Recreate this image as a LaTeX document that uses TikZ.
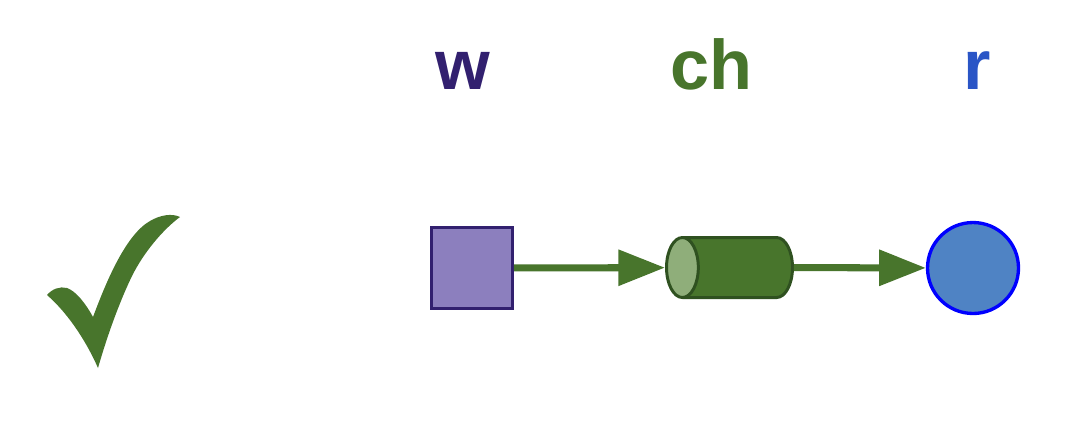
\documentclass[tikz,border=0pt]{standalone}
\usepackage{fontspec}
\setsansfont{Liberation Sans}
\usetikzlibrary{shapes.geometric, arrows.meta}
\definecolor{wpurple}{HTML}{8C7FBE}
\definecolor{wdark}{HTML}{32206F}
\definecolor{chgreen}{HTML}{48752C}
\definecolor{chlight}{HTML}{8FAE7A}
\definecolor{chdark}{HTML}{2F5120}
\definecolor{rblue}{HTML}{4F83C4}
\definecolor{rtext}{HTML}{2A55C6}
\begin{document}
\begin{tikzpicture}[x=0.02cm, y=-0.02cm,
      writer/.style = {
        rectangle, draw=wdark, fill=wpurple, line width=1.7pt,
        minimum size=1.62cm, inner sep=0pt },
      channel/.style = {
        cylinder, shape border rotate=180, draw=chdark, line width=1.7pt,
        cylinder uses custom fill, cylinder body fill=chgreen,
        cylinder end fill=chlight, aspect=0.53,
        inner xsep=0pt, inner ysep=0.6cm,
        minimum width=1.2cm, minimum height=2.52cm },
      reader/.style = {
        circle, draw=blue, fill=rblue, line width=1.9pt,
        minimum size=1.82cm, inner sep=0pt },
      tag/.style = {
        anchor=base, inner sep=0pt,
        font=\sffamily\bfseries\fontsize{40}{48}\selectfont },
      line/.style = {
        draw=chgreen, line width=4pt,
        -{Triangle[length=26.6pt, width=19.8pt]} }]
    \useasboundingbox (0,0) rectangle (1070,434);
    \node [writer] (w) at (472, 268) {};
    \node [channel, anchor=shape center] (ch) at (729.5, 267.5) {};
    \node [reader] (r) at (973, 268) {};
    \node [tag, text=wdark] (wtag) at (463, 89) {w};
    \node [tag, text=chgreen] (chtag) at (711, 89) {ch};
    \node [tag, text=rtext] (rtag) at (977, 89) {r};
    % tick on the left
    \fill [chgreen] (47,295) .. controls (52,289) and (60,286) .. (67,288)
      .. controls (76,291) and (86,304) .. (93,317)
      .. controls (105,285) and (125,235) .. (150,221)
      .. controls (160,215) and (172,213) .. (180,217)
      .. controls (165,228) and (145,250) .. (132,276)
      .. controls (118,305) and (106,340) .. (98,368)
      .. controls (88,345) and (70,315) .. (47,295) -- cycle;
    % connect the nodes
    \draw[line] (w) -- (ch);
    \draw[line] (ch) -- (r);
  \end{tikzpicture}
\end{document}
